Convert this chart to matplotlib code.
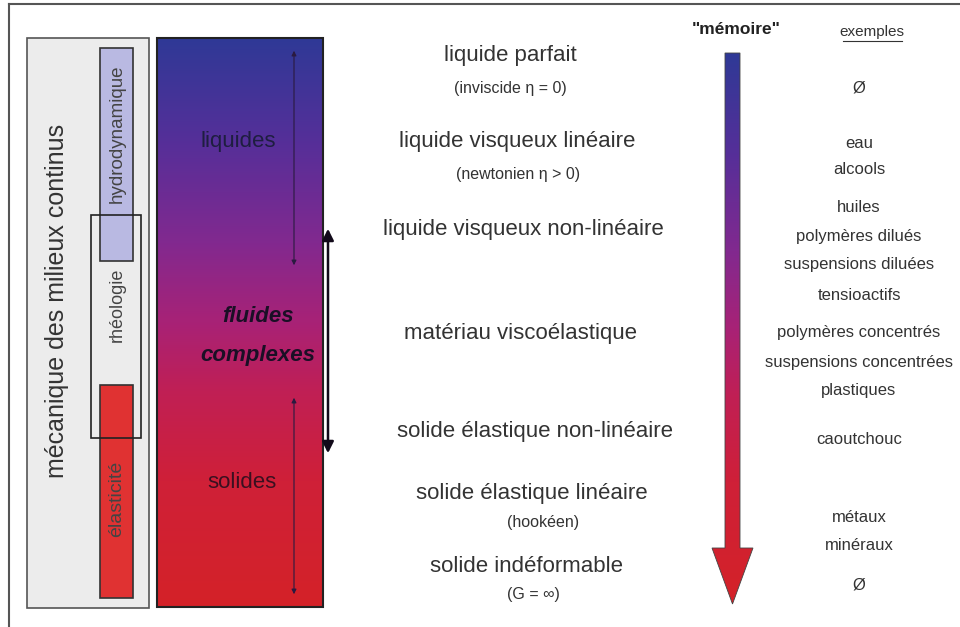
import numpy as np
import matplotlib
matplotlib.use('Agg')
import matplotlib.pyplot as plt
from matplotlib.colors import LinearSegmentedColormap
from matplotlib.patches import Rectangle, Polygon

plt.rcParams['font.family'] = ['Liberation Sans', 'DejaVu Sans']

# behaviour classes (middle column)
states = ['liquide parfait', 'liquide visqueux linéaire', 'liquide visqueux non-linéaire',
          'matériau viscoélastique', 'solide élastique non-linéaire',
          'solide élastique linéaire', 'solide indéformable']
state_x = [510, 517, 523, 521, 535, 532, 527]
state_y = [55, 141, 229, 333, 432, 493, 566]

notes = ['(inviscide η = 0)', '(newtonien η > 0)', '(hookéen)', '(G = ∞)']
note_x = [510, 518, 543, 533]
note_y = [88, 175, 523, 595]

# examples column
examples = ['Ø', 'eau', 'alcools', 'huiles', 'polymères dilués', 'suspensions diluées',
            'tensioactifs', 'polymères concentrés', 'suspensions concentrées', 'plastiques',
            'caoutchouc', 'métaux', 'minéraux', 'Ø']
example_y = [88, 143, 170, 208, 237, 265, 296, 333, 362, 390, 440, 517, 545, 585]

# vertical labels on the left
fields = ['hydrodynamique', 'rhéologie', 'élasticité']
field_y = [134, 305, 499]
field_size = [13.5, 13, 14]

cmap = LinearSegmentedColormap.from_list('mem', [
    (0.0, '#2f3996'), (0.18, '#552f99'), (0.36, '#82298f'), (0.5, '#a82276'),
    (0.62, '#c01f55'), (0.78, '#cf2038'), (1.0, '#d42228')])
grad = np.linspace(0, 1, 256).reshape(-1, 1)

fig = plt.figure(figsize=(9.6, 6.27), dpi=100)
ax = fig.add_axes([0, 0, 1, 1])
ax.set_xlim(0, 960)
ax.set_ylim(627, 0)
ax.axis('off')

# frame lines
ax.plot([9, 960], [4, 4], color='#555555', lw=1.5)
ax.plot([9, 9], [4, 627], color='#555555', lw=1.5)

# left grey box
ax.add_patch(Rectangle((27, 38), 122, 570, fc='#ececec', ec='#555555', lw=1.2))
ax.text(57, 301, 'mécanique des milieux continus', rotation=90, ha='center', va='center',
        fontsize=18, color='#333333')
ax.add_patch(Rectangle((100, 48), 33, 213, fc='#b9b9e2', ec='#333333', lw=1.2))
ax.add_patch(Rectangle((100, 385), 33, 213, fc='#e03232', ec='#333333', lw=1.2))
ax.add_patch(Rectangle((91, 215), 50, 223, fill=False, ec='#222222', lw=1.2))
for lab, y, fs in zip(fields, field_y, field_size):
    ax.text(117, y, lab, rotation=90, ha='center', va='center', fontsize=fs, color='#444444')

# gradient box
ax.imshow(grad, cmap=cmap, extent=(157, 323, 607, 38), aspect='auto', zorder=1)
ax.add_patch(Rectangle((157, 38), 166, 569, fill=False, ec='#222222', lw=1.5, zorder=2))
ax.text(238, 142, 'liquides', ha='center', va='center', fontsize=16, color='#1e1e40', zorder=3)
ax.text(242, 482, 'solides', ha='center', va='center', fontsize=16, color='#3a1020', zorder=3)
ax.text(258, 317, 'fluides', ha='center', va='center', fontsize=16, color='#1a0f25',
        weight='bold', style='italic', zorder=3)
ax.text(258, 355, 'complexes', ha='center', va='center', fontsize=16, color='#1a0f25',
        weight='bold', style='italic', zorder=3)

thin = dict(arrowstyle='<|-|>', color='#2a1a40', lw=0.8, mutation_scale=7)
ax.annotate('', xy=(294, 48), xytext=(294, 268), arrowprops=thin, zorder=3)
ax.annotate('', xy=(294, 395), xytext=(294, 597), arrowprops=thin, zorder=3)
ax.annotate('', xy=(328, 226), xytext=(328, 456),
            arrowprops=dict(arrowstyle='<|-|>', color='#120a1a', lw=1.8, mutation_scale=17), zorder=3)

# middle column
for lab, x, y in zip(states, state_x, state_y):
    ax.text(x, y, lab, ha='center', va='center', fontsize=16, color='#333333')
for lab, x, y in zip(notes, note_x, note_y):
    ax.text(x, y, lab, ha='center', va='center', fontsize=11.5, color='#333333')

# memory arrow
arrow = Polygon([(725, 53), (740, 53), (740, 548), (753, 548), (732.5, 604),
                 (712, 548), (725, 548)], closed=True, fc='none', ec='#444444', lw=0.6, zorder=3)
ax.add_patch(arrow)
im = ax.imshow(grad, cmap=cmap, extent=(710, 755, 604, 53), aspect='auto', zorder=2)
im.set_clip_path(arrow)
ax.text(736, 29, '"mémoire"', ha='center', va='center', fontsize=12.5, weight='bold', color='#222222')

# examples column
ax.text(872, 32, 'exemples', ha='center', va='center', fontsize=11, color='#333333')
ax.plot([843, 902], [41, 41], color='#333333', lw=0.8)
for lab, y in zip(examples, example_y):
    ax.text(859, y, lab, ha='center', va='center', fontsize=12, color='#333333')

ax.set_xlim(0, 960)
ax.set_ylim(627, 0)
fig.savefig('out.png', dpi=100)
